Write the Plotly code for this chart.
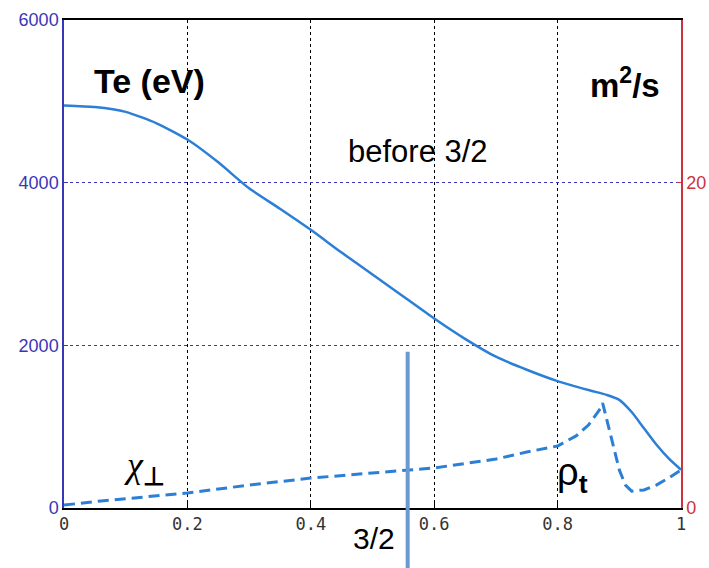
import plotly.graph_objects as go

# Te profile (left axis, eV)
rho_te = [0, 0.05, 0.1, 0.15, 0.2, 0.25, 0.3, 0.35, 0.4, 0.45, 0.5, 0.55, 0.6, 0.65,
          0.7, 0.75, 0.8, 0.85, 0.88, 0.9, 0.92, 0.94, 0.96, 0.98, 1.0]
te = [4950, 4930, 4870, 4730, 4530, 4250, 3930, 3680, 3420, 3140, 2870, 2600, 2330, 2080,
      1860, 1700, 1560, 1450, 1390, 1330, 1180, 980, 780, 610, 470]

# chi_perp profile (right axis, m^2/s)
rho_chi = [0, 0.06, 0.2, 0.3, 0.4, 0.5, 0.6, 0.7, 0.75, 0.8, 0.83, 0.85, 0.87, 0.873,
           0.88, 0.89, 0.9, 0.91, 0.92, 0.94, 0.96, 0.98, 1.0]
chi = [0.18, 0.43, 0.92, 1.41, 1.84, 2.15, 2.46, 3.01, 3.44, 3.81, 4.43, 5.10, 6.15, 6.45,
       5.41, 3.87, 2.34, 1.41, 1.04, 1.11, 1.41, 1.84, 2.34]

q32_rho = 0.557

x_ticks = [0, 0.2, 0.4, 0.6, 0.8, 1]
x_ticktext = ["0", "0.2", "0.4", "0.6", "0.8", "1"]
y_ticks = [0, 2000, 4000, 6000]
y2_ticks = [0, 20]

blue = "#2b7fd6"
axblue = "#3a36b8"
red = "#cc3340"

fig = go.Figure()
fig.add_trace(go.Scatter(x=rho_te, y=te, mode="lines",
                         line=dict(color=blue, width=2.5, shape="spline", smoothing=0.6),
                         showlegend=False))
fig.add_trace(go.Scatter(x=rho_chi, y=chi, mode="lines", yaxis="y2",
                         line=dict(color=blue, width=3, dash="11px,6px"),
                         showlegend=False))

fig.add_shape(type="line", xref="x", yref="paper", x0=q32_rho, x1=q32_rho,
              y0=-0.15, y1=0.32, line=dict(color="#6a9ad0", width=4))

fig.update_layout(
    width=709, height=568,
    margin=dict(l=64, r=28, t=20, b=60, autoexpand=False),
    paper_bgcolor="white", plot_bgcolor="white",
    xaxis=dict(range=[0, 1], tickvals=x_ticks, ticktext=x_ticktext, automargin=False,
               showline=True, linecolor="black", linewidth=1.5, mirror=True,
               showgrid=True, gridcolor="black", griddash="dot", gridwidth=1,
               ticks="inside", ticklen=5, tickcolor="black",
               tickfont=dict(family="DejaVu Sans Mono", size=17, color="#333333"),
               zeroline=False),
    yaxis=dict(range=[0, 6000], tickvals=y_ticks, automargin=False,
               showline=True, linecolor=axblue, linewidth=1.5,
               showgrid=True, gridcolor=axblue, griddash="dot", gridwidth=1,
               ticks="inside", ticklen=4, tickcolor=axblue,
               tickfont=dict(family="Liberation Sans", size=18, color=axblue),
               zeroline=False),
    yaxis2=dict(range=[0, 30], tickvals=y2_ticks, overlaying="y", side="right",
                automargin=False,
                showline=True, linecolor=red, linewidth=1.5,
                showgrid=False, ticks="inside", ticklen=4, tickcolor=red,
                tickfont=dict(family="Liberation Sans", size=18, color=red),
                zeroline=False),
)

fig.add_annotation(xref="paper", yref="paper", x=0.045, y=0.918, xanchor="left",
                   text="<b>Te (eV)</b>", showarrow=False,
                   font=dict(family="Liberation Sans", size=34, color="black"))
fig.add_annotation(xref="paper", yref="paper", x=0.97, y=0.918, xanchor="right",
                   text="<b>m<sup>2</sup>/s</b>", showarrow=False,
                   font=dict(family="Liberation Sans", size=33, color="black"))
fig.add_annotation(xref="paper", yref="paper", x=0.573, y=0.77, xanchor="center",
                   text="before 3/2", showarrow=False,
                   font=dict(family="Liberation Sans", size=31, color="black"))
fig.add_annotation(xref="paper", yref="paper", x=0.094, y=0.032, xanchor="left",
                   text="<i>χ</i><sub><b>⊥</b></sub>", showarrow=False,
                   font=dict(family="Liberation Serif", size=36, color="black"))
fig.add_annotation(xref="paper", yref="paper", x=0.795, y=0.014, xanchor="left",
                   text="ρ<sub><b>t</b></sub>", showarrow=False,
                   font=dict(family="Liberation Sans", size=38, color="black"))
fig.add_annotation(xref="paper", yref="paper", x=0.54, y=-0.1, xanchor="right",
                   text="3/2", showarrow=False,
                   font=dict(family="Liberation Sans", size=30, color="black"))

fig.write_html(
    "out.html",
    config={"displayModeBar": False},
    post_script=("document.body.style.margin='0';"
                 "document.body.style.overflow='hidden';"
                 "document.documentElement.style.overflow='hidden';"),
)
